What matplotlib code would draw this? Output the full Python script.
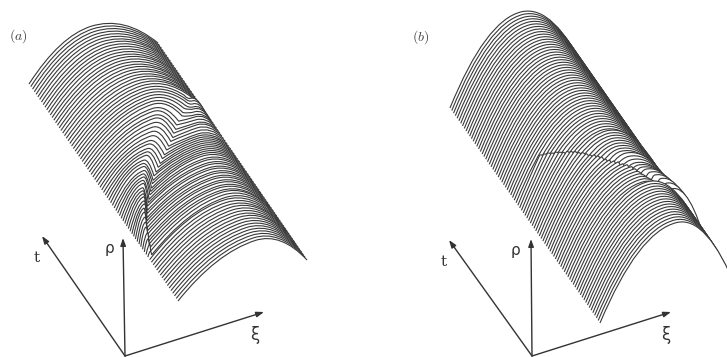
"""Two stacked-profile surfaces rho(xi, t), drawn back row to front row."""
import matplotlib

matplotlib.use("Agg")
import matplotlib.pyplot as plt
from matplotlib.patches import PathPatch
from matplotlib.path import Path
from matplotlib.transforms import Affine2D

# every row: left peak (xi, rho); rows with a dip add dip (xi, rho) and right peak (xi, rho)
a_peak_xi = [.48] * 7 + [.49] * 6 + [.50] * 4 + [.51, .51, .52, .52, .53, .53, .54, .54] + [
    .54, .54, .54, .54, .54, .53, .53, .52, .51, .50, .49, .47, .45, .43, .41, .38, .36, .34, .32, .30, .27, .25,
    .24, .23, .21, .20, .18, .17, .15, .14, .13, .12, .11, .10, .08, .07, .06, .05, .04, .04, .03, .03, .02
] + [.58, .58, .58, .59, .59, .59, .59] + [.60] * 10
a_peak_rho = [38] * 25 + [38, 38, 38, 38, 38, 38, 38, 37, 37, 36, 36, 35, 34, 33, 32, 31, 31, 30, 30, 30, 29, 29,
                          29, 28, 28, 28, 28, 28, 27, 27, 27, 27, 26, 26, 25, 24, 22, 20, 18, 15, 12, 9, 5] + [36] * 17
a_dip_xi = [None] * 25 + [.86, .85, .84, .82, .80, .78, .76, .72, .69, .67, .64, .62, .59, .56, .53, .50, .47, .44,
                          .41, .38, .35, .33, .31, .29, .27, .25, .23, .21, .19, .175, .16, .145, .13, .115, .10,
                          .09, .08, .07, .06, .05, .04, .035, .03] + [None] * 17
a_dip_rho = [None] * 25 + [18, 18, 18, 18, 18, 17, 17, 16, 16, 15, 15, 14, 14, 13, 13, 12, 12, 11, 11, 10, 10, 9, 9,
                           8, 8, 8, 7, 7, 7, 6, 6, 5, 5, 5, 4, 4, 4, 3, 3, 3, 2, 2, 1] + [None] * 17
a_right_xi = [None] * 25 + [.91, .91, .90, .89, .88, .87, .86, .85, .84, .83, .82, .81, .80, .79, .77, .76, .75, .74,
                            .73, .72, .71, .70, .69, .68, .67, .67, .66, .66, .65, .65, .64, .64, .63, .63, .62,
                            .62, .61, .61, .60, .60, .60, .60, .60] + [None] * 17
a_right_rho = [None] * 25 + [13, 13, 13, 13, 14, 14, 14, 15, 15, 15, 16, 16, 16] + [
    16, 17, 18, 19, 20, 21, 22, 23, 24, 25, 26, 27, 27, 28, 28, 29, 29, 30, 30,
    31, 31, 32, 32, 33, 33, 34, 34, 35, 35, 35] + [None] * 17

b_peak_xi = [.52] * 38 + [.16, .175, .19, .205, .22, .235, .25, .265, .28, .295, .31, .325, .34, .355, .37, .385,
                          .40, .415, .43, .45, .47, .49, .51, .53, .54, .54, .54, .54, .54, .54] + [.56] * 17
b_peak_rho = [79] * 38 + [45, 48, 51, 53, 56, 58, 60, 63, 65, 67, 68, 70, 71, 72, 74, 75, 76, 76, 77, 78, 79, 79,
                          80, 80, 80, 80, 80, 80, 80, 80] + [82] * 17
b_left_ctrl = [79] * 38 + [24, 26, 28.5, 31, 33, 35, 37.5, 40, 42, 44, 46.5, 49, 51, 53, 55.5, 58, 60, 62, 65, 68,
                           70, 74, 76, 79, 80, 80, 80, 80, 80, 80] + [82] * 17
b_dip_xi = [None] * 38 + [.18, .195, .21, .225, .24, .255, .27, .285, .30, .315, .33, .345, .36, .375, .39, .405,
                          .42, .435, .45, .47, .49, .51, .53, .55, .57, .60, .63, .66, .69, .72] + [None] * 17
b_dip_rho = [None] * 38 + [44, 47, 50, 52, 55, 57, 58, 61, 63, 65, 66, 68, 68, 69, 71, 72, 72, 72, 72, 73, 73, 72,
                           72, 71, 71, 70, 69, 67, 66, 63] + [None] * 17
b_right_xi = [None] * 38 + [.52] * 9 + [.53] * 9 + [.55, .56, .57, .58, .59, .60, .62, .64, .66, .69, .72, .75] + [None] * 17
b_right_rho = [None] * 38 + [79] * 9 + [80] * 9 + [80, 79, 78, 77, 77, 77, 77, 76, 75, 73, 70, 66] + [None] * 17

# panel placement in pixels: back-left corner, xi direction, t direction
a_frame = dict(corner=(29, 84), xi_vec=(129, -41), t_vec=(149, 217))
b_frame = dict(corner=(450, 108), xi_vec=(137, -33), t_vec=(150, 215))

a_axes = dict(origin=(125, 356), t=(42, 236), rho=(123, 238), xi=(264, 312))
b_axes = dict(origin=(532, 356), t=(449, 240), rho=(531, 239), xi=(671, 312))
a_labels = dict(panel=(18, 36, "$(a)$"), t=(37, 258), rho=(109, 249), xi=(255, 335))
b_labels = dict(panel=(421, 37, "$(b)$"), t=(444, 262), rho=(516, 251), xi=(666, 335))

LINE = "#383838"


def row_path(xp, rp, ctrl, xd, rd, xr, rr):
    verts = [(0, 0), (xp / 2, ctrl), (xp, rp)]
    if xd is not None:
        verts += [((xp + xd) / 2, rp), (xd, rd), ((xd + xr) / 2, rr), (xr, rr)]
        xp, rp = xr, rr
    verts += [((xp + 1) / 2, rp), (1, 0)]
    codes = [Path.MOVETO] + [Path.CURVE3] * (len(verts) - 1)
    return verts, codes


def draw_surface(ax, frame, rows):
    x0, y0 = frame["corner"]
    vx, vy = frame["xi_vec"]
    tx, ty = frame["t_vec"]
    n = len(rows[0])
    for i in range(n):
        verts, codes = row_path(*[r[i] for r in rows])
        s = i / (n - 1)
        tr = Affine2D.from_values(vx, vy, 0, -1, x0 + s * tx, y0 + s * ty) + ax.transData
        fill = Path(verts + [(0, 0)], codes + [Path.LINETO])
        ax.add_patch(PathPatch(fill, facecolor="white", edgecolor="none", transform=tr, zorder=2 + i * 0.01))
        ax.add_patch(PathPatch(Path(verts, codes), facecolor="none", edgecolor=LINE, lw=0.8,
                               transform=tr, zorder=2 + i * 0.01))


def draw_axes(ax, ends, labels):
    for key in ("t", "rho", "xi"):
        ax.annotate("", xy=ends[key], xytext=ends["origin"], zorder=5,
                    arrowprops=dict(arrowstyle="-|>,head_length=0.45,head_width=0.16", color="#333333",
                                    lw=1.0, shrinkA=0, shrinkB=0))
    x, y, txt = labels["panel"]
    ax.text(x, y, txt, fontsize=10, color="#444444", ha="center", va="center",
            math_fontfamily="cm")
    ax.text(*labels["t"], "t", fontsize=11, color="#333333", ha="center", va="center", family="DejaVu Serif")
    ax.text(*labels["rho"], "ρ", fontsize=11, color="#333333", ha="center", va="center", family="DejaVu Sans")
    ax.text(*labels["xi"], "ξ", fontsize=12, color="#333333", ha="center", va="center", family="DejaVu Sans")


fig = plt.figure(figsize=(7.27, 3.57), dpi=100)
ax = fig.add_axes([0, 0, 1, 1])
ax.set_xlim(0, 727)
ax.set_ylim(357, 0)
ax.set_axis_off()

draw_surface(ax, a_frame, (a_peak_xi, a_peak_rho, a_peak_rho, a_dip_xi, a_dip_rho, a_right_xi, a_right_rho))
draw_surface(ax, b_frame, (b_peak_xi, b_peak_rho, b_left_ctrl, b_dip_xi, b_dip_rho, b_right_xi, b_right_rho))
draw_axes(ax, a_axes, a_labels)
draw_axes(ax, b_axes, b_labels)

fig.savefig("out.png", dpi=100)
